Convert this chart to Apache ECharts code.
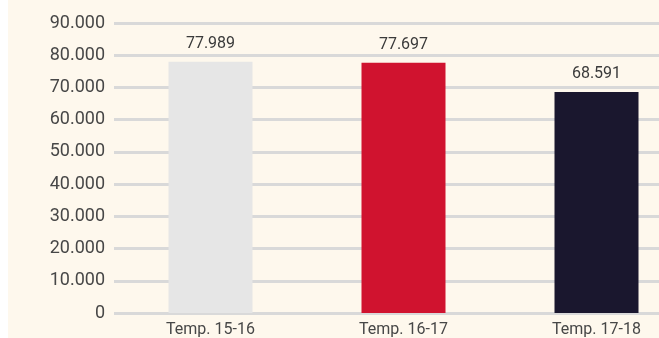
<!DOCTYPE html>
<html>
<head>
<meta charset="utf-8">
<script src="https://cdn.jsdelivr.net/npm/echarts@6/dist/echarts.min.js"></script>
<style>
  html, body { margin: 0; padding: 0; background: #ffffff; overflow: hidden; }
  #frame { position: absolute; left: 8px; top: 0; width: 651px; height: 338px; overflow: hidden; background: #fef8ed; }
  #chart { position: absolute; left: 0; top: 0; width: 720px; height: 338px; }
</style>
</head>
<body>
<div id="frame"><div id="chart"></div></div>
<script>
// Season attendance totals
const seasons = ['Temp. 15-16', 'Temp. 16-17', 'Temp. 17-18'];
const attendance = [77989, 77697, 68591];
const barColors = ['#e6e6e6', '#d0132f', '#1a172e'];
const yTicks = { min: 0, max: 90000, step: 10000 };

// Spanish-style thousands separator
function fmt(v) {
  return String(Math.round(v)).replace(/\B(?=(\d{3})+(?!\d))/g, '.');
}

const chart = echarts.init(document.getElementById('chart'), null, { renderer: 'canvas' });
const font = 'Roboto, "Noto Sans", sans-serif';
const textColor = '#474747';

chart.setOption({
  backgroundColor: '#fef8ed',
  animation: false,
  grid: { left: 106, top: 23, width: 579, height: 290, containLabel: false },
  xAxis: {
    type: 'category',
    data: seasons,
    boundaryGap: true,
    axisLine: { show: false },
    axisTick: { show: false },
    axisLabel: { color: textColor, fontSize: 16, fontFamily: font, margin: 9 }
  },
  yAxis: {
    type: 'value',
    min: yTicks.min,
    max: yTicks.max,
    interval: yTicks.step,
    axisLine: { show: false },
    axisTick: { show: false },
    axisLabel: { color: textColor, fontSize: 18, fontFamily: font, margin: 9, formatter: fmt },
    splitLine: { lineStyle: { color: '#d9d9d9', width: 3 } }
  },
  series: [{
    type: 'bar',
    barWidth: 84,
    data: attendance.map((v, i) => ({ value: v, itemStyle: { color: barColors[i] } })),
    label: {
      show: true,
      position: 'top',
      distance: 10,
      color: '#3a3a3a',
      fontSize: 16,
      fontFamily: font,
      formatter: p => fmt(p.value)
    }
  }]
});
</script>
</body>
</html>
